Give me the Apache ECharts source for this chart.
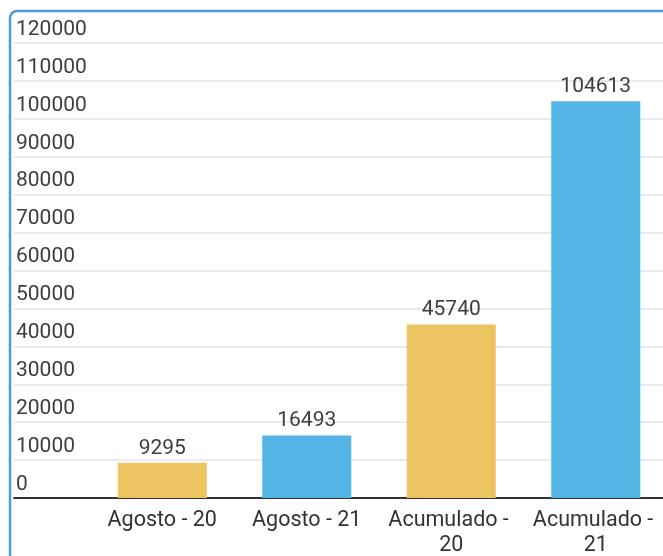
<!DOCTYPE html>
<html>
<head>
<meta charset="utf-8">
<script src="https://cdn.jsdelivr.net/npm/echarts@6/dist/echarts.min.js"></script>
<style>
html,body{margin:0;padding:0;background:#fff;}
#c{width:663px;height:556px;}
</style>
</head>
<body>
<div id="c"></div>
<script>
var categories = ['Agosto - 20', 'Agosto - 21', 'Acumulado - 20', 'Acumulado - 21'];
var values = [9295, 16493, 45740, 104613];
var barColors = ['#edc462', '#55b4e6', '#edc462', '#55b4e6'];
var yMin = 0, yMax = 120000, yStep = 10000;

var chart = echarts.init(document.getElementById('c'));
var seriesData = values.map(function (v, i) {
  return { value: v, itemStyle: { color: barColors[i] } };
});
chart.setOption({
  animation: false,
  backgroundColor: '#fff',
  graphic: [{
    type: 'rect', z: -10, silent: true,
    shape: { x: 10, y: 11, width: 720, height: 620, r: 7 },
    style: { fill: '#fff', stroke: '#4b9cd3', lineWidth: 2.5 }
  }],
  grid: [
    { left: 14, right: 0, top: 43, bottom: 58, containLabel: false, outerBoundsMode: 'none' },
    { left: 90, width: 578, top: 43, bottom: 58, containLabel: false, outerBoundsMode: 'none' }
  ],
  xAxis: [
    { gridIndex: 0, type: 'category', data: [''], axisLine: { show: true, lineStyle: { color: '#333', width: 2 } },
      axisTick: { show: false }, axisLabel: { show: false } },
    { gridIndex: 1, type: 'category', data: categories,
      axisLine: { show: false }, axisTick: { show: false },
      axisLabel: { interval: 0, color: '#333', fontSize: 21.5, fontFamily: 'Roboto', margin: 10,
        lineHeight: 25, width: 138, overflow: 'break' } }
  ],
  yAxis: [
    { gridIndex: 0, type: 'value', min: yMin, max: yMax, interval: yStep,
      axisLine: { show: false }, axisTick: { show: false },
      axisLabel: { inside: true, margin: 2, color: '#3d3d3d', fontSize: 21, fontFamily: 'Roboto',
        verticalAlign: 'bottom', padding: [0, 0, 3, 0],
        formatter: function (v) { return String(v); } },
      splitLine: { show: true, lineStyle: { color: '#e3e3e3', width: 1.5 } } },
    { gridIndex: 1, type: 'value', min: yMin, max: yMax, interval: yStep, show: false,
      splitLine: { show: false } }
  ],
  series: [{
    type: 'bar', xAxisIndex: 1, yAxisIndex: 1, data: seriesData, barWidth: 89,
    label: { show: true, position: 'top', distance: 4, color: '#3d3d3d', fontSize: 21, fontFamily: 'Roboto' }
  }]
});
</script>
</body>
</html>
